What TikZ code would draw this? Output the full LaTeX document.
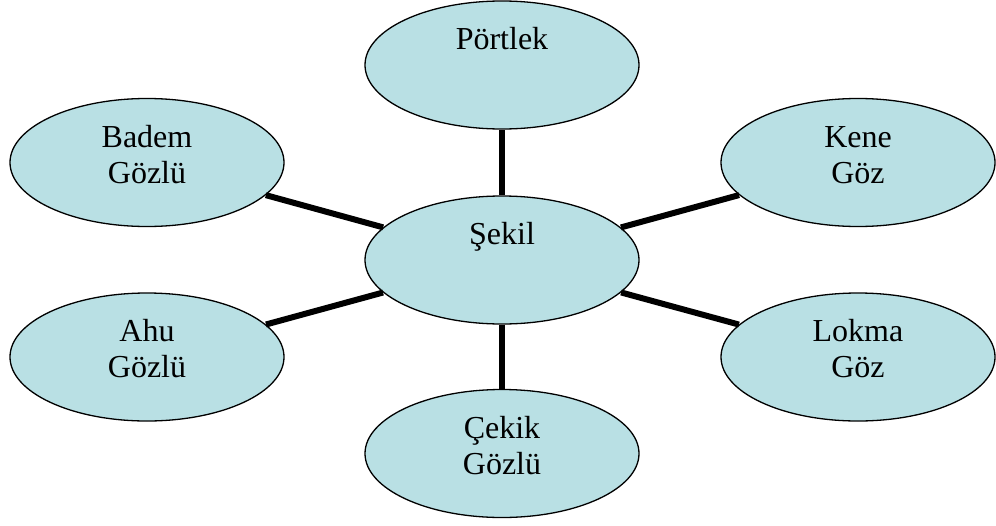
\documentclass[tikz,border=0pt]{standalone}
\usepackage{fontspec}
\setmainfont{Liberation Serif}
\usetikzlibrary{shapes.geometric,calc}
\definecolor{ellfill}{RGB}{185,224,228}
\begin{document}
\begin{tikzpicture}[x=1pt,y=-1pt,
  ell/.style={ellipse,draw=black,line width=1.3pt,fill=ellfill,minimum width=274pt,minimum height=128pt,inner sep=0pt},
  lbl/.style={anchor=base,inner sep=0pt,font=\fontsize{32}{36}\selectfont},
  conn/.style={line width=6pt,black}]
\useasboundingbox (0,0) rectangle (996,525);
\setlength{\tabcolsep}{0pt}
\node[ell] (por) at (502,65) {};
\node[ell] (sek) at (502,260) {};
\node[ell] (bad) at (147,162.5) {};
\node[ell] (ken) at (858,162.5) {};
\node[ell] (ahu) at (147,357) {};
\node[ell] (lok) at (858,357) {};
\node[ell] (cek) at (502,453.5) {};
\node[lbl] (porl) at ($(por)+(0,-16)$) {Pörtlek};
\node[lbl] (sekl) at ($(sek)+(0,-16)$) {Şekil};
\node[lbl] (badl) at ($(bad)+(0,-15.5)$) {\begin{tabular}[t]{c}Badem\\Gözlü\end{tabular}};
\node[lbl] (kenl) at ($(ken)+(0,-15.5)$) {\begin{tabular}[t]{c}Kene\\Göz\end{tabular}};
\node[lbl] (ahul) at ($(ahu)+(0,-15.5)$) {\begin{tabular}[t]{c}Ahu\\Gözlü\end{tabular}};
\node[lbl] (lokl) at ($(lok)+(0,-15.5)$) {\begin{tabular}[t]{c}Lokma\\Göz\end{tabular}};
\node[lbl] (cekl) at ($(cek)+(0,-15.5)$) {\begin{tabular}[t]{c}Çekik\\Gözlü\end{tabular}};
\draw[conn] (sek) -- (por);
\draw[conn] (sek) -- (bad);
\draw[conn] (sek) -- (ken);
\draw[conn] (sek) -- (ahu);
\draw[conn] (sek) -- (lok);
\draw[conn] (sek) -- (cek);
\end{tikzpicture}
\end{document}
